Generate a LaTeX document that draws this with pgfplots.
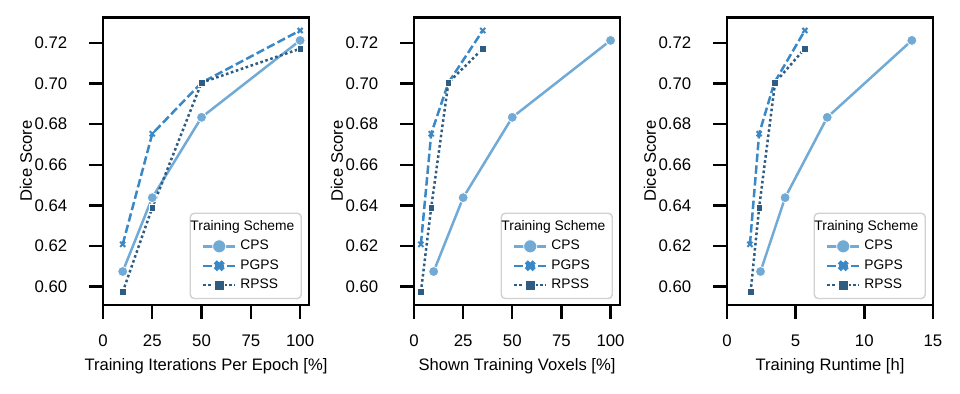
\documentclass[border=0pt]{standalone}
\usepackage{fontspec}
\setmainfont{Liberation Sans}
\usepackage{pgfplots}
\pgfplotsset{compat=1.18}

\definecolor{cpsc}{RGB}{114,170,214}
\definecolor{pgpsc}{RGB}{58,136,197}
\definecolor{rpssc}{RGB}{47,92,130}

\pgfplotsset{
  dice/.style={
    scale only axis, width=103pt, height=143.85pt,
    anchor=south west,
    ymin=0.5909, ymax=0.7327,
    ytick={0.60,0.62,0.64,0.66,0.68,0.70,0.72},
    yticklabel style={xshift=-7.5pt, /pgf/number format/.cd, fixed, fixed zerofill, precision=2},
    xticklabel style={yshift=-4.8pt},
    /pgf/number format/assume math mode=true,
    tick label style={font=\fontsize{8.4}{10}\selectfont},
    axis line style={line width=1.4pt},
    every tick/.style={line width=1.2pt, black},
    tick align=outside, xtick pos=bottom, ytick pos=left,
    tickwidth=6.8pt,
    every axis x label/.style={at={(rel axis cs:0.5,0)}, yshift=-30.5pt, anchor=center,
      font=\fontsize{8.3}{10}\selectfont},
    every axis y label/.style={at={(rel axis cs:0,0.5)}, xshift=-38.5pt, rotate=90, anchor=center,
      font=\fontsize{8.3}{10}\selectfont},
    ylabel={Dice Score},
    clip=false,
    legend style={at={(rel axis cs:0.966,0.02)}, anchor=south east,
      draw=black!18, line width=0.7pt, rounded corners=2pt, fill=white,
      font=\fontsize{6.9}{8}\selectfont, inner sep=1.5pt, row sep=-0.6pt},
    legend cell align=left,
    legend image code/.code={\draw[mark repeat=2,mark phase=2] plot coordinates {(5pt,0pt) (13pt,0pt) (21pt,0pt)};},
  },
  cps/.style={color=cpsc, line width=1.25pt, solid, mark=*, mark size=2.5pt, mark options={solid, draw=white, line width=0.4pt}},
  pgps/.style={color=pgpsc, line width=1.25pt, dash pattern=on 4.2pt off 1.7pt, mark=x, mark size=1.8pt, mark options={solid, line width=1pt}},
  rpss/.style={color=rpssc, line width=1.25pt, dash pattern=on 1.3pt off 1.3pt, mark=square*, mark size=1.65pt, mark options={solid, draw=white, line width=0.3pt}},
  legcps/.style={cps, mark size=3.3pt},
  legpgps/.style={pgps, mark size=2.8pt, mark options={solid, line width=2.2pt}},
  legrpss/.style={rpss, mark size=2.7pt},
}

\newcommand{\schemelegend}{%
  \addlegendimage{empty legend}\addlegendentry{\hspace*{-25pt}Training Scheme}
  \addlegendimage{legcps}\addlegendentry{CPS}
  \addlegendimage{legpgps}\addlegendentry{PGPS}
  \addlegendimage{legrpss}\addlegendentry{RPSS}
}

\begin{document}
\begin{tikzpicture}
\path[use as bounding box] (0,0) rectangle (480pt,197pt);

% panel 1
\begin{axis}[dice, at={(51.5pt,44.5pt)},
    xmin=0, xmax=104.5, xtick={0,25,50,75,100},
    xlabel={Training Iterations Per Epoch [\%]}]
\addplot[cps, forget plot] coordinates {(10,0.6074) (25,0.6438) (50,0.6834) (100,0.7213)};
\addplot[pgps, forget plot] coordinates {(10,0.6208) (25,0.6753) (50,0.7005) (100,0.7262)};
\addplot[rpss, forget plot] coordinates {(10,0.5973) (25,0.6389) (50,0.7005) (100,0.7172)};
\schemelegend
\end{axis}

% panel 2
\begin{axis}[dice, at={(207pt,44.5pt)},
    xmin=0, xmax=104.8, xtick={0,25,50,75,100},
    xlabel={Shown Training Voxels [\%]}]
\addplot[cps, forget plot] coordinates {(10,0.6074) (25,0.6438) (50,0.6834) (100,0.7213)};
\addplot[pgps, forget plot] coordinates {(3.5,0.6208) (8.75,0.6753) (17.5,0.7005) (35,0.7262)};
\addplot[rpss, forget plot] coordinates {(3.5,0.5973) (8.75,0.6389) (17.5,0.7005) (35,0.7172)};
\schemelegend
\end{axis}

% panel 3
\begin{axis}[dice, at={(363.5pt,44.5pt)},
    xmin=0, xmax=15, xtick={0,5,10,15},
    xlabel={Training Runtime [h]}]
\addplot[cps, forget plot] coordinates {(2.44,0.6074) (4.23,0.6438) (7.30,0.6834) (13.46,0.7213)};
\addplot[pgps, forget plot] coordinates {(1.67,0.6208) (2.34,0.6753) (3.45,0.7005) (5.67,0.7262)};
\addplot[rpss, forget plot] coordinates {(1.72,0.5973) (2.34,0.6389) (3.50,0.7005) (5.65,0.7172)};
\schemelegend
\end{axis}
\end{tikzpicture}
\end{document}
